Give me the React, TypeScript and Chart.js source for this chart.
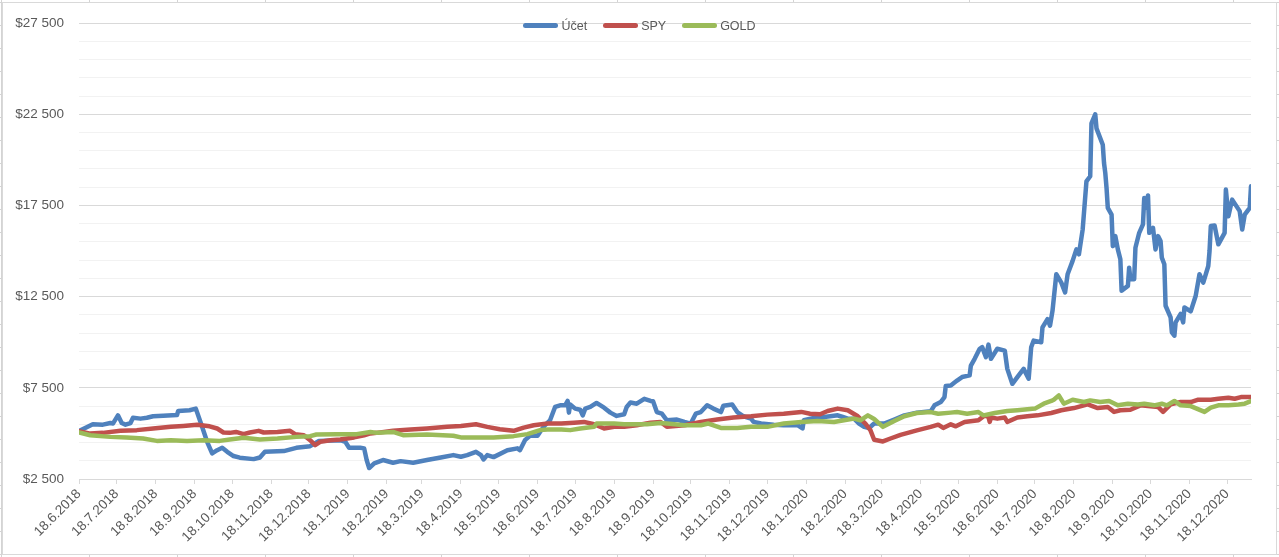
import { useEffect, useRef } from "react"
import { Chart, registerables, type ChartConfiguration } from "chart.js"

Chart.register(...registerables)

// day 0 = 18.6.2018
const START_UTC = Date.UTC(2018, 5, 18)
const LAST_DAY = 933

const xTickLabels = [
  "18.6.2018", "18.7.2018", "18.8.2018", "18.9.2018", "18.10.2018", "18.11.2018", "18.12.2018",
  "18.1.2019", "18.2.2019", "18.3.2019", "18.4.2019", "18.5.2019", "18.6.2019", "18.7.2019",
  "18.8.2019", "18.9.2019", "18.10.2019", "18.11.2019", "18.12.2019",
  "18.1.2020", "18.2.2020", "18.3.2020", "18.4.2020", "18.5.2020", "18.6.2020", "18.7.2020",
  "18.8.2020", "18.9.2020", "18.10.2020", "18.11.2020", "18.12.2020",
]

const Y_MIN = 2500
const Y_MAX = 27500
const yMajorTicks = [2500, 7500, 12500, 17500, 22500, 27500]
const yGridValues = Array.from({ length: 26 }, (_, i) => Y_MIN + i * 1000)

const uctetDays = [
  0, 11, 19, 25, 27, 31, 34, 37, 41, 43, 49, 54, 59, 67, 78, 79, 88, 93, 98, 102,
  106, 110, 114, 118, 123, 128, 139, 144, 148, 163, 173, 184, 191, 203, 208, 212, 215, 224, 227, 229,
  231, 235, 242, 250, 256, 266, 277, 288, 298, 304, 309, 316, 320, 322, 325, 330, 341, 349, 351, 355,
  359, 365, 367, 371, 375, 379, 383, 387, 389, 390, 391, 395, 399, 401, 403, 407, 412, 418, 423, 428,
  434, 436, 439, 444, 450, 455, 457, 460, 464, 468, 476, 482, 487, 491, 495, 500, 505, 511, 513, 520,
  524, 529, 535, 537, 543, 553, 561, 572, 576, 577, 585, 593, 598, 604, 608, 612, 617, 621, 625, 629,
  633, 641, 649, 657, 667, 678, 681, 686, 689, 690, 694, 699, 703, 709, 710, 713, 717, 719, 722, 724,
  726, 731, 737, 739, 743, 747, 752, 756, 758, 760, 766, 767, 771, 773, 775, 778, 782, 785, 787, 791,
  794, 796, 799, 802, 805, 806, 809, 810, 815, 816, 817, 818, 819, 822, 823, 825, 827, 829, 830, 835,
  836, 837, 840, 841, 844, 847, 848, 849, 851, 852, 855, 857, 859, 861, 862, 864, 865, 869, 870, 872,
  873, 877, 879, 880, 885, 889, 892, 895, 899, 900, 901, 904, 907, 912, 913, 915, 918, 924, 926, 928,
  932, 933,
]
const uctetValues = [
  5130, 5500, 5480, 5570, 5540, 5990, 5570, 5480, 5570, 5860, 5810, 5860, 5940, 5970, 6010, 6230, 6270, 6360, 5360, 4540,
  3900, 4080, 4210, 3990, 3760, 3670, 3590, 3680, 3990, 4030, 4210, 4300, 4580, 4610, 4630, 4540, 4210, 4210, 4180, 3540,
  3100, 3360, 3540, 3390, 3480, 3390, 3540, 3680, 3810, 3720, 3810, 3990, 3810, 3570, 3810, 3700, 4080, 4180, 4080, 4630,
  4870, 4870, 5080, 5450, 5720, 6450, 6540, 6540, 6780, 6140, 6590, 6360, 6300, 5990, 6360, 6450, 6670, 6410, 6140, 5960,
  6050, 6450, 6690, 6630, 6900, 6780, 6760, 6170, 6080, 5720, 5760, 5630, 5540, 6080, 6170, 6540, 6360, 6170, 6520, 6590,
  6170, 5940, 5810, 5630, 5540, 5480, 5450, 5450, 5270, 5720, 5850, 5900, 5940, 5990, 5900, 5810, 5810, 5540, 5360, 5300,
  5540, 5540, 5760, 5990, 6140, 6210, 6540, 6720, 6990, 7600, 7630, 7900, 8090, 8180, 8720, 9090, 9640, 9730, 9180, 9870,
  9090, 9640, 9540, 8540, 7720, 8090, 8540, 8000, 9720, 10090, 10000, 10810, 11270, 10910, 11730, 13730, 13270, 12730, 13730, 14460,
  15090, 14820, 16180, 18820, 19100, 22000, 22500, 21730, 20830, 19820, 19280, 18460, 17370, 17000, 15270, 15820, 15090, 14550, 12820, 13090,
  14090, 13460, 13460, 15180, 16000, 16460, 17910, 17370, 18050, 16000, 16270, 15090, 15820, 15550, 14640, 14280, 12000, 11360, 10540, 10360,
  11090, 11550, 11090, 11910, 11690, 12550, 13730, 13270, 14180, 15000, 16370, 16400, 15370, 16000, 18370, 16910, 17820, 17190, 16180, 17000,
  17370, 18550,
]

const spyDays = [
  0, 9, 19, 33, 46, 59, 73, 83, 94, 104, 110, 115, 120, 125, 131, 136, 143, 147, 158, 168,
  172, 179, 184, 188, 192, 200, 208, 219, 227, 232, 237, 250, 264, 277, 293, 304, 316, 325, 335, 346,
  354, 362, 373, 384, 394, 402, 410, 418, 426, 434, 444, 455, 463, 468, 482, 495, 508, 521, 535, 548,
  561, 575, 582, 590, 596, 604, 612, 620, 626, 630, 633, 640, 646, 654, 667, 678, 684, 688, 694, 698,
  705, 716, 721, 724, 725, 726, 731, 737, 739, 747, 755, 763, 774, 782, 792, 803, 811, 819, 824, 829,
  837, 845, 853, 859, 863, 869, 877, 885, 891, 901, 907, 915, 920, 925, 933,
]
const spyValues = [
  5120, 4990, 5030, 5140, 5180, 5270, 5360, 5410, 5470, 5390, 5270, 5050, 5030, 5080, 4960, 5050, 5140, 5050, 5080, 5140,
  4960, 4900, 4630, 4360, 4540, 4630, 4670, 4780, 4900, 5000, 5030, 5140, 5210, 5270, 5360, 5410, 5500, 5360, 5230, 5140,
  5320, 5450, 5540, 5540, 5590, 5630, 5500, 5270, 5360, 5360, 5450, 5590, 5630, 5360, 5450, 5630, 5760, 5870, 5940, 6030,
  6080, 6180, 6080, 6050, 6230, 6360, 6270, 5940, 5540, 5180, 4650, 4560, 4720, 4920, 5170, 5360, 5480, 5300, 5500, 5390,
  5630, 5720, 5990, 5900, 5630, 5870, 5810, 5870, 5630, 5870, 5940, 5990, 6120, 6270, 6390, 6590, 6390, 6450, 6180, 6270,
  6300, 6540, 6490, 6450, 6180, 6590, 6720, 6720, 6850, 6850, 6900, 6960, 6900, 6990, 6990,
]

const goldDays = [
  0, 9, 25, 38, 51, 62, 73, 86, 99, 112, 120, 131, 144, 158, 173, 184, 189, 205, 221, 232,
  237, 250, 258, 277, 298, 304, 330, 346, 357, 367, 373, 384, 391, 399, 410, 412, 426, 434, 452, 463,
  468, 482, 495, 501, 511, 524, 535, 548, 561, 575, 588, 601, 609, 617, 622, 628, 633, 640, 649, 657,
  667, 678, 684, 694, 699, 707, 716, 720, 729, 739, 747, 761, 768, 774, 776, 780, 784, 791, 800, 805,
  813, 820, 827, 835, 843, 848, 856, 862, 866, 872, 877, 885, 896, 901, 907, 915, 923, 928, 933,
]
const goldValues = [
  5060, 4900, 4810, 4780, 4720, 4590, 4630, 4590, 4630, 4590, 4670, 4760, 4670, 4720, 4810, 4850, 4940, 4960, 4960, 5080,
  5030, 5080, 4900, 4940, 4870, 4780, 4780, 4850, 4960, 5180, 5210, 5210, 5180, 5270, 5360, 5540, 5540, 5500, 5500, 5570,
  5540, 5450, 5450, 5540, 5300, 5300, 5360, 5360, 5540, 5630, 5680, 5630, 5720, 5810, 5720, 5990, 5790, 5360, 5680, 5940,
  6120, 6170, 6080, 6140, 6170, 6080, 6170, 5990, 6120, 6230, 6270, 6360, 6630, 6780, 6850, 7080, 6630, 6850, 6720, 6810,
  6720, 6780, 6540, 6630, 6580, 6630, 6540, 6630, 6540, 6780, 6540, 6500, 6180, 6410, 6540, 6540, 6590, 6630, 6780,
]

const SERIES = [
  { label: "Účet", color: "#4f81bd", days: uctetDays, values: uctetValues, order: 3 },
  { label: "SPY", color: "#c0504d", days: spyDays, values: spyValues, order: 2 },
  { label: "GOLD", color: "#9bbb59", days: goldDays, values: goldValues, order: 1 },
]

function labelToDay(s: string) {
  const [d, m, y] = s.split(".").map(Number)
  return Math.round((Date.UTC(y, m - 1, d) - START_UTC) / 86400000)
}

const xTickDays = xTickLabels.map(labelToDay)
const FONT = '"Liberation Sans", Arial, sans-serif'
const TEXT = "#595959"

function money(v: number) {
  return "$" + String(v).replace(/\B(?=(\d{3})+(?!\d))/g, " ")
}

export default function App() {
  const canvasRef = useRef<HTMLCanvasElement>(null)

  useEffect(() => {
    document.body.style.margin = "0"
    if (!canvasRef.current) return

    const config: ChartConfiguration = {
      type: "line",
      data: {
        datasets: SERIES.map(s => ({
          label: s.label,
          data: s.days.map((d, i) => ({ x: d, y: s.values[i] })),
          borderColor: s.color,
          backgroundColor: s.color,
          order: s.order,
        })),
      },
      options: {
        animation: false,
        responsive: true,
        maintainAspectRatio: false,
        layout: { padding: { top: 21, right: 28, bottom: 0, left: 0 } },
        elements: {
          point: { radius: 0, hoverRadius: 0 },
          line: { borderWidth: 4.5, borderCapStyle: "round", borderJoinStyle: "round", tension: 0 },
        },
        plugins: { legend: { display: false }, tooltip: { enabled: false } },
        scales: {
          x: {
            type: "linear",
            min: 0,
            max: LAST_DAY,
            afterBuildTicks: s => { s.ticks = xTickDays.map(v => ({ value: v })) },
            afterFit: s => { s.height = 78 },
            grid: { drawOnChartArea: false, drawTicks: true, tickLength: 5, color: "#d9d9d9" },
            border: { color: "#d9d9d9" },
            ticks: {
              autoSkip: false,
              minRotation: 45,
              maxRotation: 45,
              padding: 2,
              color: TEXT,
              font: { family: FONT, size: 13.5 },
              callback: v => xTickLabels[xTickDays.indexOf(Number(v))] ?? "",
            },
          },
          y: {
            min: Y_MIN,
            max: Y_MAX,
            afterBuildTicks: s => { s.ticks = yGridValues.map(v => ({ value: v })) },
            afterFit: s => { s.width = 79 },
            grid: {
              drawTicks: false,
              color: ctx => (ctx.tick && yMajorTicks.includes(ctx.tick.value) ? "#d9d9d9" : "#f2f2f2"),
            },
            border: { display: false },
            ticks: {
              autoSkip: false,
              padding: 15,
              color: TEXT,
              font: { family: FONT, size: 13.5 },
              callback: v => (yMajorTicks.includes(Number(v)) ? money(Number(v)) : ""),
            },
          },
        },
      },
    }

    const chart = new Chart(canvasRef.current, config)
    return () => { chart.destroy() }
  }, [])

  return (
    <div
      style={{
        position: "relative",
        width: 1279,
        height: 557,
        backgroundColor: "#fff",
        backgroundImage:
          "linear-gradient(to right, #d4d4d4 1px, transparent 1px), linear-gradient(to bottom, #d4d4d4 1px, transparent 1px)",
        backgroundSize: "88px 100%, 100% 23px",
        backgroundPosition: "1px 0, 0 2px",
        overflow: "hidden",
      }}
    >
      <div style={{ position: "absolute", left: 2, top: 2, width: 1273, height: 551, background: "#fff", border: "1px solid #d9d9d9" }} />
      <div style={{ position: "absolute", left: 0, top: 0, width: 1279, height: 557 }}>
        <canvas ref={canvasRef} aria-label="Účet vs SPY vs GOLD" role="img" />
      </div>
      <div
        style={{
          position: "absolute", left: 0, top: 17, width: 1279, height: 17,
          display: "flex", justifyContent: "center", alignItems: "center", gap: 16,
          fontFamily: FONT, fontSize: 12.5, color: TEXT,
        }}
      >
        {SERIES.map(s => (
          <div key={s.label} style={{ display: "flex", alignItems: "center", gap: 3 }}>
            <div style={{ width: 35, height: 5, borderRadius: 3, background: s.color }} />
            <span>{s.label}</span>
          </div>
        ))}
      </div>
    </div>
  )
}
